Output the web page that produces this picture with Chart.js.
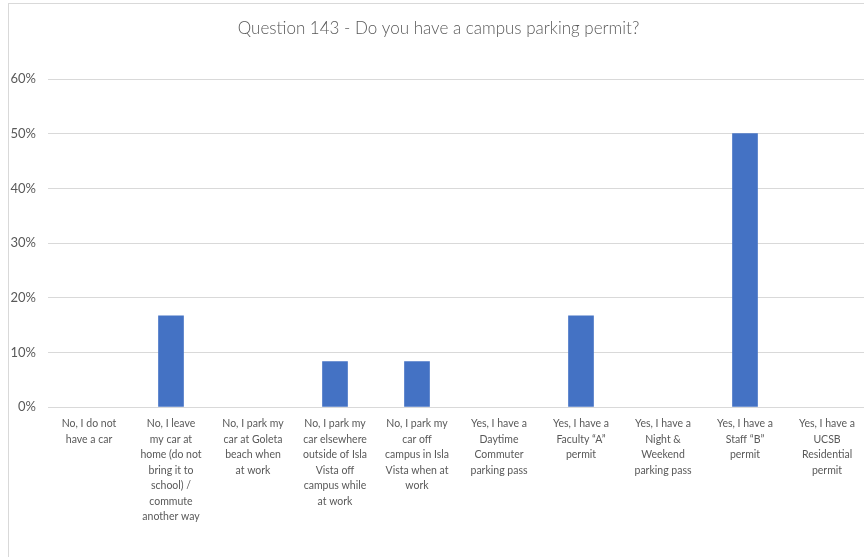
<!DOCTYPE html>
<html>
<head>
<meta charset="utf-8">
<script src="https://cdn.jsdelivr.net/npm/chart.js@4/dist/chart.umd.min.js"></script>
<style>
    body { margin: 0; background: #fff; overflow: hidden; }
    #wrap {
        position: absolute;
        left: 8px;
        top: 3px;
        width: 872px;
        height: 580px;
        border-left: 1px solid #d9d9d9;
        border-top: 1px solid #d9d9d9;
    }
</style>
</head>
<body>
<div id="wrap"><canvas id="chartQ143"></canvas></div>
<script>
const answers = [
    ["No, I do not", "have a car"],
    ["No, I leave", "my car at", "home (do not", "bring it to", "school) /", "commute", "another way"],
    ["No, I park my", "car at Goleta", "beach when", "at work"],
    ["No, I park my", "car elsewhere", "outside of Isla", "Vista off", "campus while", "at work"],
    ["No, I park my", "car off", "campus in Isla", "Vista when at", "work"],
    ["Yes, I have a", "Daytime", "Commuter", "parking pass"],
    ["Yes, I have a", "Faculty \u201cA\u201d", "permit"],
    ["Yes, I have a", "Night &", "Weekend", "parking pass"],
    ["Yes, I have a", "Staff \u201cB\u201d", "permit"],
    ["Yes, I have a", "UCSB", "Residential", "permit"]
];
const percentages = [0, 16.67, 0, 8.33, 8.33, 0, 16.67, 0, 50, 0];
const yTicks = [0, 10, 20, 30, 40, 50, 60];

function createPermitChart(labels, values) {
    const ctx = document.getElementById("chartQ143");
    const grey = "#595959";
    const font = "Lato, 'Open Sans', sans-serif";

    return new Chart(ctx, {
        type: "bar",
        data: {
            labels,
            datasets: [
                {
                    label: "Responses",
                    data: values,
                    // empty answers get no sliver at the baseline
                    backgroundColor: (c) => c.raw === 0 ? "rgba(0,0,0,0)" : "#4472C4",
                    borderWidth: 0,
                    barThickness: 25,
                },
            ],
        },
        options: {
            responsive: true,
            maintainAspectRatio: false,
            animation: false,
            layout: { padding: { left: 0, right: 13, top: 0, bottom: 0 } },
            plugins: {
                legend: { display: false },
                tooltip: { enabled: false },
                title: {
                    display: true,
                    text: "Question 143 - Do you have a campus parking permit?",
                    color: grey,
                    font: { family: font, size: 17, weight: "300", lineHeight: 1.2 },
                    padding: { top: 14, bottom: 40.6 },
                },
            },
            scales: {
                x: {
                    grid: { display: false, drawTicks: false },
                    border: { display: false },
                    ticks: {
                        color: grey,
                        font: { family: font, size: 10.5, lineHeight: 1.48 },
                        autoSkip: false,
                        maxRotation: 0,
                        minRotation: 0,
                        padding: 9,
                    },
                    afterFit(scale) { scale.height = 177; },
                },
                y: {
                    min: yTicks[0],
                    max: yTicks[yTicks.length - 1],
                    afterBuildTicks(scale) {
                        scale.ticks = yTicks.map((v) => ({ value: v }));
                    },
                    grid: { color: "#d9d9d9", drawTicks: false },
                    border: { display: false },
                    ticks: {
                        color: grey,
                        font: { family: font, size: 13 },
                        padding: 12,
                        callback: (v) => v + "%",
                    },
                    afterFit(scale) { scale.width = 39; },
                },
            },
        },
    });
}

createPermitChart(answers, percentages);
</script>
</body>
</html>
